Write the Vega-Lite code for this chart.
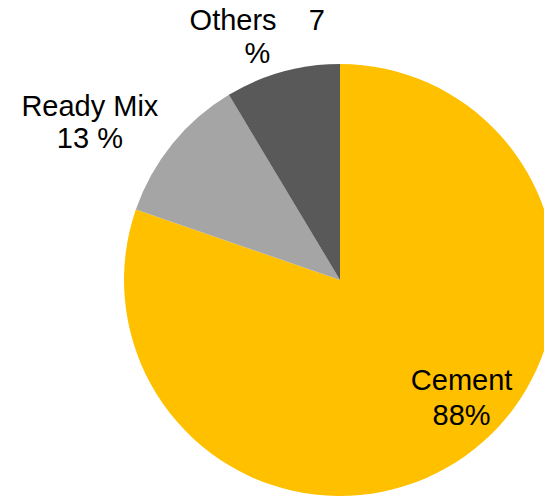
{
  "$schema": "https://vega.github.io/schema/vega-lite/v6.json",
  "width": 680,
  "height": 560,
  "autosize": {"type": "none"},
  "padding": 0,
  "background": "white",
  "config": {"view": {"stroke": null}},
  "data": {
    "values": [
      {"Category": "Cement", "Share": 80.3, "Label": "Cement\n88%"},
      {"Category": "Ready Mix", "Share": 11.1, "Label": "Ready Mix\n13 %"},
      {"Category": "Others", "Share": 8.6, "Label": "Others\u00a0\u00a0\u00a0\u00a07\n%"}
    ]
  },
  "encoding": {
    "theta": {"field": "Share", "type": "quantitative", "stack": true},
    "order": {"field": "Share", "type": "quantitative", "sort": "descending"}
  },
  "layer": [
    {
      "mark": {"type": "arc", "outerRadius": 216},
      "encoding": {
        "color": {
          "field": "Category",
          "type": "nominal",
          "scale": {"domain": ["Cement", "Ready Mix", "Others"], "range": ["#FFC000", "#A5A5A5", "#595959"]},
          "legend": null
        }
      }
    },
    {
      "mark": {"type": "text", "radius": 170, "dx": 23, "dy": -28, "align": "center", "baseline": "alphabetic", "font": "Liberation Sans", "fontSize": 29, "lineHeight": 35, "lineBreak": "\n", "color": "black"},
      "encoding": {
        "text": {"condition": {"test": "datum.Category === 'Cement'", "field": "Label"}, "value": ""}
      }
    },
    {
      "mark": {"type": "text", "radius": 250, "dx": -56, "dy": -6, "align": "center", "baseline": "alphabetic", "font": "Liberation Sans", "fontSize": 29, "lineHeight": 32, "lineBreak": "\n", "color": "black"},
      "encoding": {
        "text": {"condition": {"test": "datum.Category === 'Ready Mix'", "field": "Label"}, "value": ""}
      }
    },
    {
      "mark": {"type": "text", "radius": 250, "dx": -16, "dy": -9, "align": "center", "baseline": "alphabetic", "font": "Liberation Sans", "fontSize": 29, "lineHeight": 33, "lineBreak": "\n", "color": "black"},
      "encoding": {
        "text": {"condition": {"test": "datum.Category === 'Others'", "field": "Label"}, "value": ""}
      }
    }
  ]
}
